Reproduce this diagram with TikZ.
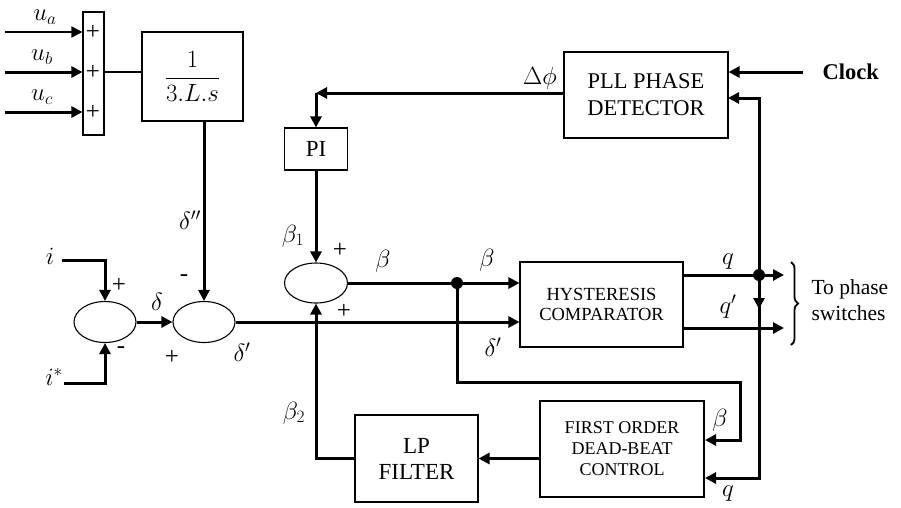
\documentclass[tikz,border=0pt]{standalone}
\usepackage{amsmath}
\usepackage{fontspec}
\setmainfont{Liberation Serif}
\usepackage{tikz}
\usetikzlibrary{shapes.geometric, arrows.meta, positioning, calc, decorations.pathreplacing}

\tikzset{
  blk/.style={draw, line width=1.1pt, inner sep=0pt, align=center},
  sumnode/.style={draw, ellipse, line width=1.1pt, inner sep=0pt},
  sig/.style={line width=3pt, -{Triangle[length=11pt,width=11pt]}},
  thinsig/.style={line width=1.6pt, -{Triangle[length=11pt,width=11pt]}},
  wire/.style={line width=1.1pt},
  lbl/.style={font=\fontsize{24}{26}\selectfont, inner sep=0pt},
  sgn/.style={font=\fontsize{25}{27}\selectfont, inner sep=0pt},
  dot/.style={circle, fill, inner sep=0pt, minimum size=12pt}
}

\begin{document}
\begin{tikzpicture}[x=1pt, y=-1pt]
  \useasboundingbox (0,0) rectangle (901,507);

  \node[blk, minimum width=21pt, minimum height=123pt] (bar) at (93.5,73.5) {};
  \node[blk, minimum width=101pt, minimum height=89pt, font=\fontsize{23}{26}\selectfont] (lsbox) at (192.5,76.5) {$\dfrac{1}{3.L.s}$};
  \node[blk, minimum width=63pt, minimum height=42pt, font=\fontsize{23}{25}\selectfont] (pi) at (316,149) {PI};
  \node[blk, minimum width=164pt, minimum height=86pt, font=\fontsize{22.5}{27}\selectfont] (pll) at (646,95) {PLL PHASE\\DETECTOR};
  \node[blk, minimum width=163pt, minimum height=85pt, font=\fontsize{18.5}{20}\selectfont] (hyst) at (601.5,304.5) {HYSTERESIS\\COMPARATOR};
  \node[blk, minimum width=164pt, minimum height=96pt, font=\fontsize{18}{21}\selectfont] (fo) at (622,449) {FIRST ORDER\\DEAD-BEAT\\CONTROL};
  \node[blk, minimum width=123pt, minimum height=87pt, font=\fontsize{23}{26}\selectfont] (lp) at (416.5,458.5) {LP\\FILTER};

  \node[sumnode, minimum width=62pt, minimum height=41pt] (sum1) at (105,322) {};
  \node[sumnode, minimum width=62pt, minimum height=41pt] (sum2) at (204,322) {};
  \node[sumnode, minimum width=63pt, minimum height=40pt] (sum3) at (316,283) {};

  \node[dot] (jbeta) at (457,283) {};
  \node[dot] (jq) at (759,275) {};

  \coordinate (ua) at (5,32);
  \coordinate (ub) at (5,72);
  \coordinate (uc) at (5,112);
  \coordinate (iin) at (62,260);
  \coordinate (istar) at (64,383);
  \coordinate (clk) at (803,72);
  \coordinate (pibend) at (316,93);
  \coordinate (bcorner) at (740,382);
  \coordinate (fobeta) at (705,440);
  \coordinate (foq) at (705,478);
  \coordinate (pllq) at (728,98);
  \coordinate (qout) at (784,275);
  \coordinate (qpout) at (784,328);

  \draw[thinsig] (ua) -- (ua -| bar.west);
  \draw[sig] (ub) -- (ub -| bar.west);
  \draw[sig] (uc) -- (uc -| bar.west);
  \draw[wire] (bar.east |- ub) -- (lsbox.west |- ub);
  \draw[sig] (lsbox.south -| sum2.north) -- (sum2.north);
  \draw[sig] (iin) -| (sum1.north);
  \draw[sig] (istar) -| (sum1.south);
  \draw[sig] (sum1.east) -- (sum2.west);
  \draw[sig] (sum2.east) -- (sum2.east -| hyst.west);
  \draw[sig] (pi.south) -- (sum3.north);
  \draw[sig] (sum3.east) -- (sum3.east -| hyst.west);
  \draw[sig] (jbeta.center) |- (bcorner) |- (fobeta);
  \draw[sig] (hyst.east |- qout) -- (qout);
  \draw[sig] (hyst.east |- qpout) -- (qpout);
  \draw[sig] (jq.center) |- (pllq);
  \draw[sig] (jq.center) |- (foq);
  \draw[sig] (jq.center) -- ++(0,34);
  \draw[sig] (clk) -- (clk -| pll.east);
  \draw[sig] (pll.west |- pibend) -- (pibend);
  \draw[sig] (pibend) -- (pi.north);
  \draw[sig] (fo.west |- lp.east) -- (lp.east);
  \draw[sig] (lp.west) -| (sum3.south);

  \draw[line width=1.8pt, decorate, decoration={brace, amplitude=7pt}] (791,262) -- (791,345);
  \node[font=\fontsize{21.5}{26}\selectfont, align=left, anchor=west] (dest) at (808,300) {To phase\\switches};
  \node[font=\bfseries\fontsize{22.5}{24}\selectfont, anchor=west] (clock) at (819,72) {Clock};

  \node[lbl] (lua) at (45,17) {$u_a$};
  \node[lbl] (lub) at (42,57) {$u_b$};
  \node[lbl] (luc) at (42,97) {$u_c$};
  \node[sgn] (pa) at (93,32) {+};
  \node[sgn] (pb) at (93,72) {+};
  \node[sgn] (pc) at (93,112) {+};

  \node[lbl] (li) at (50,256) {$i$};
  \node[lbl] (listar) at (54,377) {$i^{*}$};
  \node[sgn] (p1) at (119,285) {+};
  \node[sgn] (m1) at (121,350) {-};
  \node[lbl] (ldelta) at (157,302) {$\delta$};
  \node[sgn] (m2) at (184,278) {-};
  \node[sgn] (p2) at (172,357) {+};
  \node[lbl] (ldpp) at (190,220) {$\delta''$};
  \node[lbl] (ldp) at (242,352) {$\delta'$};
  \node[lbl] (lb1) at (293,236) {$\beta_1$};
  \node[sgn] (p3) at (340,250) {+};
  \node[sgn] (p4) at (344,311) {+};
  \node[lbl] (lb) at (383,261) {$\beta$};
  \node[lbl] (lbh) at (487,260) {$\beta$};
  \node[lbl] (ldh) at (493,347) {$\delta'$};
  \node[lbl] (lq) at (728,262) {$q$};
  \node[lbl] (lqp) at (728,307) {$q'$};
  \node[lbl] (lbf) at (720,420) {$\beta$};
  \node[lbl] (lqf) at (728,494) {$q$};
  \node[lbl] (lb2) at (294,413) {$\beta_2$};
  \node[lbl] (ldphi) at (540,78) {$\Delta\phi$};
\end{tikzpicture}
\end{document}
